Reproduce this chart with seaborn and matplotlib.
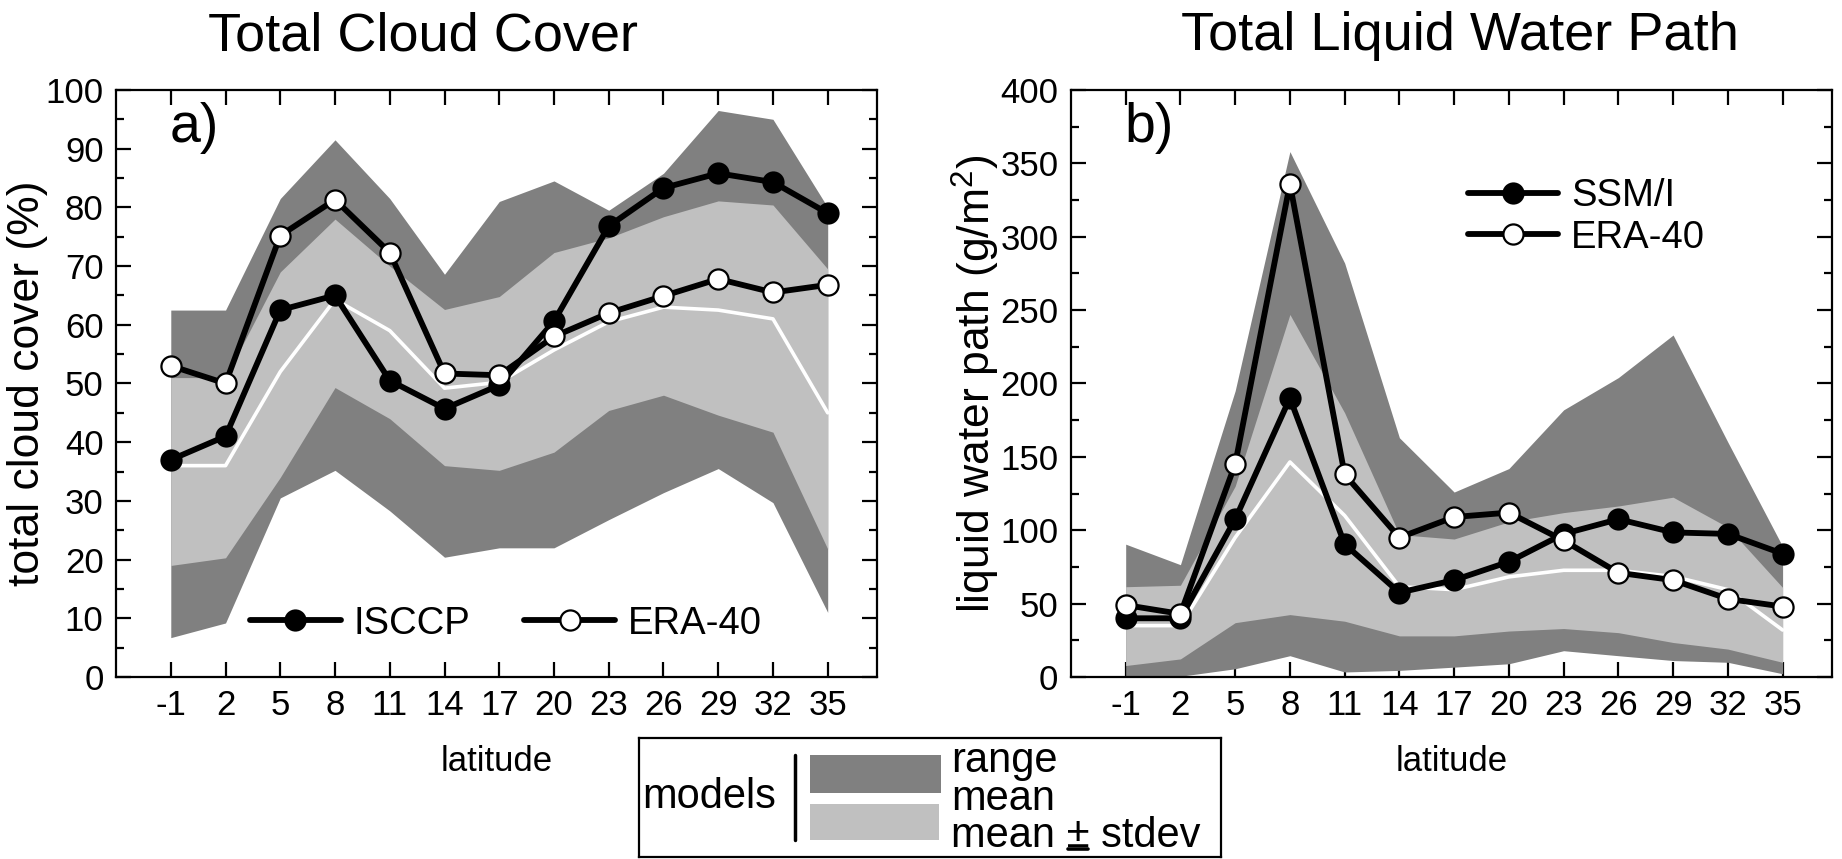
import numpy as np
import pandas as pd
import matplotlib
matplotlib.use('Agg')
import matplotlib.pyplot as plt
import seaborn as sns
from matplotlib.patches import Rectangle
from matplotlib.lines import Line2D
from matplotlib.ticker import MultipleLocator

# latitudes (x axis, both panels)
lat = [-1, 2, 5, 8, 11, 14, 17, 20, 23, 26, 29, 32, 35]

# a) total cloud cover (%)
isccp = [37, 41, 62.5, 65, 50.5, 45.7, 49.7, 60.6, 76.8, 83.3, 85.8, 84.3, 79]
era_cc = [53, 50, 75.2, 81.3, 72.3, 51.7, 51.4, 58, 62, 64.9, 67.8, 65.5, 66.8]
cc_max = [62.5, 62.5, 81.5, 91.5, 81.5, 68.6, 81, 84.5, 79.5, 85.8, 96.5, 95, 80]
cc_sd_hi = [51, 51, 69, 78, 70, 62.6, 64.8, 72.3, 74.8, 78.4, 81.1, 80.4, 69.5]
cc_mean = [36, 36, 52, 64.3, 59, 49.2, 50.2, 55.7, 60.5, 63, 62.5, 61, 45]
cc_sd_lo = [19, 20.3, 34, 49.3, 44, 36, 35.2, 38.3, 45.4, 48, 44.6, 41.7, 21.8]
cc_min = [6.7, 9.2, 30.5, 35.2, 28.3, 20.4, 22, 22, 26.8, 31.4, 35.5, 29.7, 11]

# b) liquid water path (g/m2)
ssmi = [40, 40, 107.5, 190, 90.5, 57.5, 66, 78.5, 97.5, 107.5, 98.5, 97.5, 84]
era_lwp = [49, 43, 145, 336, 138, 95, 109, 112, 93, 71, 66, 53.2, 48]
lwp_max = [90.5, 76.5, 195, 358, 282, 163, 126, 142, 182, 204, 233, 160, 89]
lwp_sd_hi = [61.5, 62.5, 130, 247, 180, 97, 94, 105.7, 112, 116.5, 122.5, 102, 61]
lwp_mean = [35, 35, 95, 146.5, 110, 61.5, 59.5, 68.2, 72.7, 72.7, 68.5, 59.5, 32]
lwp_sd_lo = [7.8, 12.3, 37, 42.5, 38, 28, 28, 31.3, 33, 30.2, 23.5, 19, 10]
lwp_min = [1, 0.5, 5.6, 14.5, 3.4, 4.5, 6.7, 9, 17.9, 14.5, 11.2, 10, 2.2]

DARK = '#808080'
LIGHT = '#c0c0c0'

sns.set_theme(style='ticks')
plt.rcParams['font.family'] = ['Liberation Sans', 'DejaVu Sans']
plt.rcParams['mathtext.fontset'] = 'custom'
plt.rcParams['mathtext.rm'] = 'Liberation Sans'
plt.rcParams['mathtext.it'] = 'Liberation Sans:italic'
for k in ['text.color', 'axes.labelcolor', 'xtick.color', 'ytick.color', 'axes.edgecolor']:
    plt.rcParams[k] = 'black'
plt.rcParams['axes.linewidth'] = 1.6

fig = plt.figure(figsize=(18.42, 8.59), dpi=100)
ax1 = fig.add_axes([0.0630, 0.2119, 0.4131, 0.6834])
ax2 = fig.add_axes([0.5814, 0.2119, 0.4131, 0.6834])


def panel(ax, obs, obs_name, era, vmax, vsd_hi, vmean, vsd_lo, vmin):
    df = pd.DataFrame({'lat': lat, 'obs': obs, 'era': era, 'mean': vmean})
    ax.fill_between(lat, vmin, vmax, color=DARK, lw=0, zorder=1)
    ax.fill_between(lat, vsd_lo, vsd_hi, color=LIGHT, lw=0, zorder=2)
    sns.lineplot(data=df, x='lat', y='mean', color='white', lw=2.6, ax=ax, zorder=3)
    sns.lineplot(data=df, x='lat', y='obs', color='black', lw=4.2, marker='o',
                 markersize=14.5, markerfacecolor='black', markeredgecolor='black',
                 markeredgewidth=1.5, label=obs_name, ax=ax, zorder=4)
    sns.lineplot(data=df, x='lat', y='era', color='black', lw=4.2, marker='o',
                 markersize=14.5, markerfacecolor='white', markeredgecolor='black',
                 markeredgewidth=1.6, label='ERA-40', ax=ax, zorder=5)
    ax.set_xlim(-4, 37.7)
    ax.set_xticks(lat)
    ax.set_xticklabels([str(v) for v in lat])
    ax.set_xlabel('latitude', fontsize=25, labelpad=16)
    ax.tick_params(which='both', direction='in', top=True, right=True,
                   width=1.6, labelsize=25, pad=9, color='black')
    ax.tick_params(which='major', length=11)
    ax.tick_params(which='minor', length=6)
    for s in ax.spines.values():
        s.set_linewidth(1.6)


panel(ax1, isccp, 'ISCCP', era_cc, cc_max, cc_sd_hi, cc_mean, cc_sd_lo, cc_min)
ax1.set_ylim(0, 100)
ax1.yaxis.set_major_locator(MultipleLocator(10))
ax1.yaxis.set_minor_locator(MultipleLocator(5))
ax1.set_ylabel('total cloud cover (%)', fontsize=32)
ax1.yaxis.set_label_coords(-0.09, 0.5)
ax1.text(0.07, 0.935, 'a)', transform=ax1.transAxes, fontsize=40, va='center')
ax1.legend(loc='center', bbox_to_anchor=(0.512, 0.091), ncol=2, frameon=False,
           fontsize=27.5, handlelength=2.4, handletextpad=0.32, columnspacing=1.4,
           borderaxespad=0, borderpad=0)

panel(ax2, ssmi, 'SSM/I', era_lwp, lwp_max, lwp_sd_hi, lwp_mean, lwp_sd_lo, lwp_min)
ax2.set_ylim(0, 400)
ax2.yaxis.set_major_locator(MultipleLocator(50))
ax2.yaxis.set_minor_locator(MultipleLocator(25))
ax2.set_ylabel('liquid water path (g/m$^2$)', fontsize=32)
ax2.yaxis.set_label_coords(-0.09, 0.5)
ax2.text(0.07, 0.935, 'b)', transform=ax2.transAxes, fontsize=40, va='center')
ax2.legend(loc='center left', bbox_to_anchor=(0.522, 0.784), ncol=1, frameon=False,
           fontsize=27.5, handlelength=2.35, handletextpad=0.35, labelspacing=0.15,
           borderaxespad=0, borderpad=0)

fig.text(0.2297, 0.958, 'Total Cloud Cover', fontsize=39, ha='center', va='center')
fig.text(0.7926, 0.958, 'Total Liquid Water Path', fontsize=39, ha='center', va='center')

# models key box at the bottom
axk = fig.add_axes([0.3469, 0.0023, 0.316, 0.1385])
axk.set_xlim(0, 1)
axk.set_ylim(0, 1)
axk.set_xticks([])
axk.set_yticks([])
for s in axk.spines.values():
    s.set_linewidth(1.6)
    s.set_color('black')
KEY_FS = 30
KEY_X = 0.536
KEY_BASE = 0.084
axk.text(0.006, 0.41, 'models', fontsize=KEY_FS, va='baseline', ha='left')
axk.add_line(Line2D([0.268, 0.268], [0.143, 0.857], color='black', lw=2.5))
axk.add_patch(Rectangle((0.294, 0.538), 0.225, 0.319, color=DARK, lw=0))
axk.add_patch(Rectangle((0.294, 0.143), 0.221, 0.302, color=LIGHT, lw=0))
axk.text(KEY_X, KEY_BASE, 'range\nmean\nmean ± stdev', fontsize=KEY_FS,
         va='baseline', ha='left', linespacing=0.92)

# underline the ± sign
fig.canvas.draw()
r = fig.canvas.get_renderer()
probe = axk.text(KEY_X, KEY_BASE, 'mean ', fontsize=KEY_FS, va='baseline', ha='left', alpha=0)
probe2 = axk.text(KEY_X, KEY_BASE, 'mean ±', fontsize=KEY_FS, va='baseline', ha='left', alpha=0)
b0 = probe.get_window_extent(r)
b1 = probe2.get_window_extent(r)
inv = axk.transAxes.inverted()
base_px = axk.transAxes.transform((0, KEY_BASE))[1]
x0, yb = inv.transform((b0.x1 + 1, base_px - 2))
x1, _ = inv.transform((b1.x1 - 1, base_px - 2))
axk.add_line(Line2D([x0, x1], [yb, yb], color='black', lw=2.6))
probe.remove()
probe2.remove()

fig.savefig('out.png', dpi=100)
